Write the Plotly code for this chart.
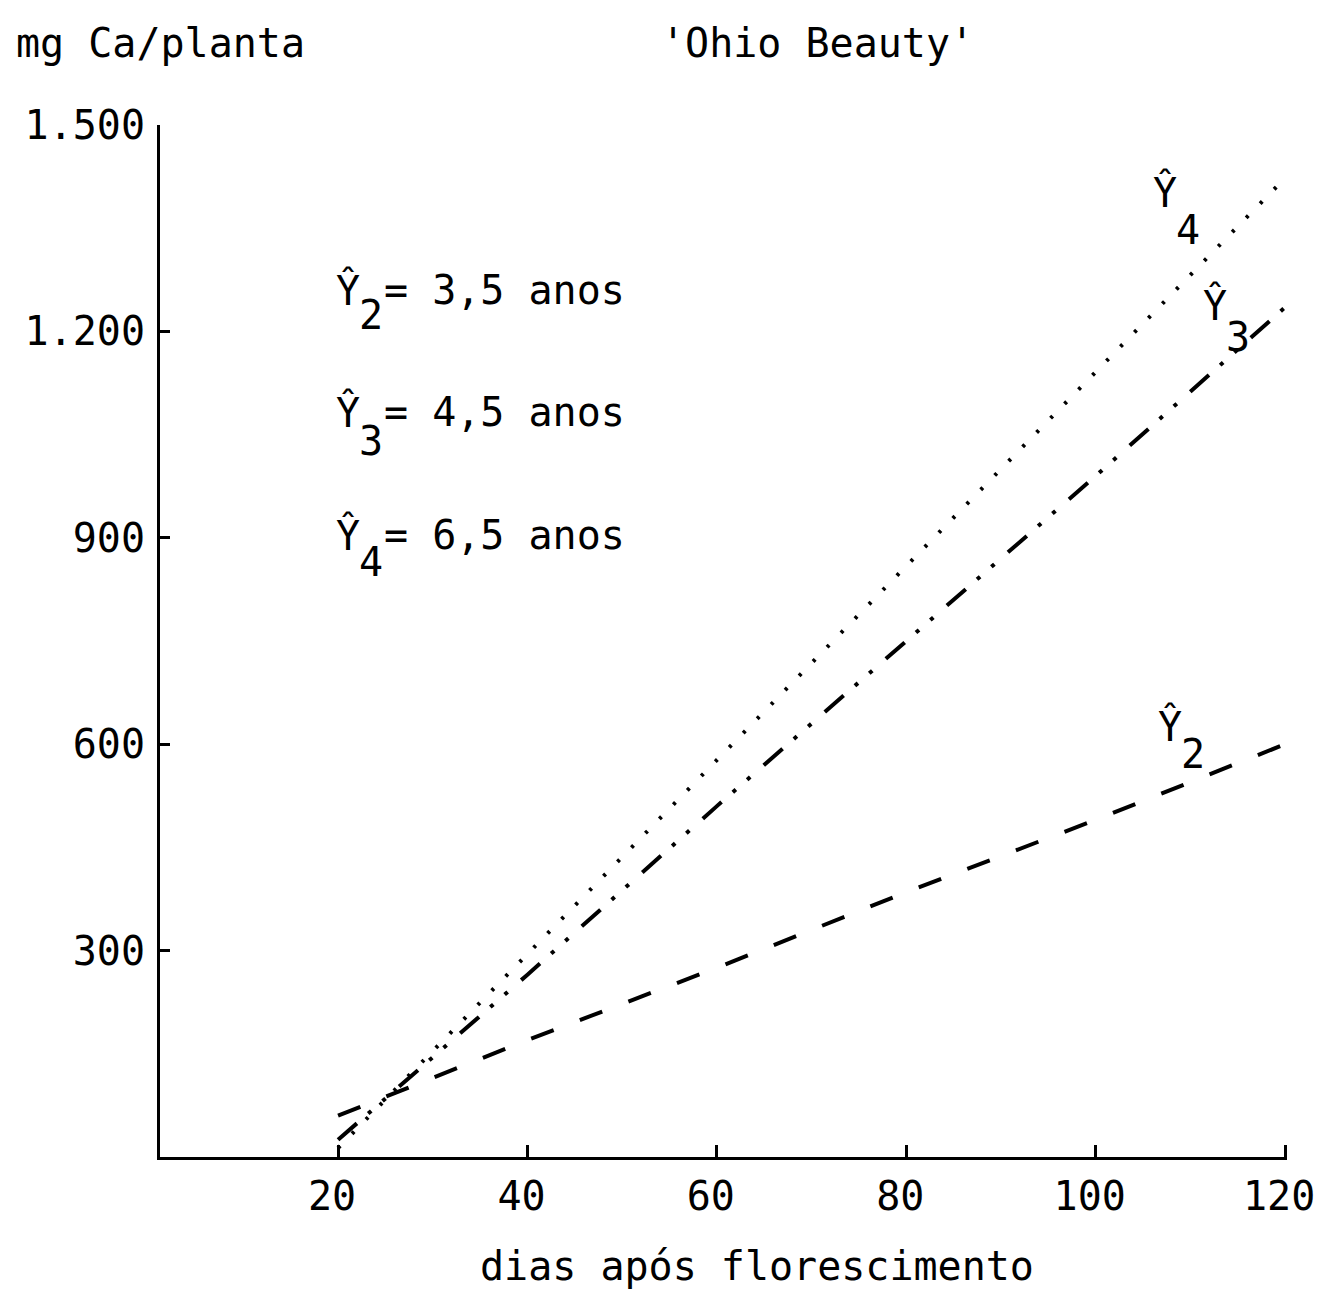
import plotly.graph_objects as go

# Days after flowering and calcium accumulation (mg Ca per plant) by tree age
dias = [20, 40, 60, 80, 100, 120]
y2_35_anos = [60, 170, 275, 385, 490, 600]
y3_45_anos = [25, 265, 510, 750, 990, 1235]
y4_65_anos = [13, 295, 577, 859, 1141, 1423]

x_ticks = [20, 40, 60, 80, 100, 120]
y_ticks = [300, 600, 900, 1200, 1500]
y_ticktext = ["300", "600", "900", "1.200", "1.500"]

FONT = "DejaVu Sans Mono"
FS = 40
W, H = 1317, 1291
L, R, T, B = 160, 1287, 125, 1157


def px(xp):
    return (xp - L) / (R - L)


def py(yp):
    return (B - yp) / (B - T)


fig = go.Figure()
fig.add_trace(go.Scatter(x=dias, y=y2_35_anos, mode="lines", name="Ŷ2",
                         line=dict(color="black", width=4, dash="24px,28px")))
fig.add_trace(go.Scatter(x=dias, y=y3_45_anos, mode="lines", name="Ŷ3",
                         line=dict(color="black", width=4,
                                   dash="25px,15px,4px,15px,4px,18px")))
fig.add_trace(go.Scatter(x=dias, y=y4_65_anos, mode="lines", name="Ŷ4",
                         line=dict(color="black", width=4, dash="3px,17px")))

ann = []
base = dict(showarrow=False, xref="paper", yref="paper",
            font=dict(family=FONT, size=FS, color="black"))


def text_at(text, xp, yp, anchor="left"):
    ann.append(dict(base, text=text, x=px(xp), y=py(yp),
                    xanchor=anchor, yanchor="middle"))


# headings
text_at("mg Ca/planta", 14, 43)
text_at("'Ohio Beauty'", 817, 43, "center")
text_at("dias após florescimento", 757, 1266, "center")


def y_hat(idx, xp, yp, sub_dy, tail=""):
    # Ŷ with a full-size lowered index, optionally followed by its description
    text_at("Ŷ", xp, yp)
    text_at(idx, xp + 23, yp + sub_dy)
    if tail:
        text_at(tail, xp + 48, yp)


# key of the curves
y_hat("2", 334, 290, 25, "= 3,5 anos")
y_hat("3", 334, 412, 29, "= 4,5 anos")
y_hat("4", 334, 535, 27, "= 6,5 anos")

# curve labels
y_hat("4", 1151, 192, 38)
y_hat("3", 1201, 305, 32)
y_hat("2", 1156, 726, 28)

fig.update_layout(
    width=W, height=H,
    margin=dict(l=L, r=W - R, t=T, b=H - B, pad=0, autoexpand=False),
    paper_bgcolor="white", plot_bgcolor="white",
    showlegend=False,
    annotations=ann,
    font=dict(family=FONT, size=FS, color="black"),
)
fig.update_xaxes(range=[1.2, 120.2], showgrid=False, zeroline=False,
                 showline=True, linecolor="black", linewidth=3,
                 ticks="inside", ticklen=12, tickwidth=3, tickcolor="black",
                 tickvals=x_ticks, ticklabelstandoff=2, ticklabelshift=-6,
                 ticklabeloverflow="allow", automargin=False,
                 tickfont=dict(family=FONT, size=FS, color="black"))
fig.update_yaxes(range=[0, 1500], showgrid=False, zeroline=False,
                 showline=True, linecolor="black", linewidth=3,
                 ticks="inside", ticklen=10, tickwidth=3, tickcolor="black",
                 tickvals=y_ticks, ticktext=y_ticktext, ticklabelstandoff=4,
                 automargin=False,
                 tickfont=dict(family=FONT, size=FS, color="black"))

fig.write_html("out.html")
